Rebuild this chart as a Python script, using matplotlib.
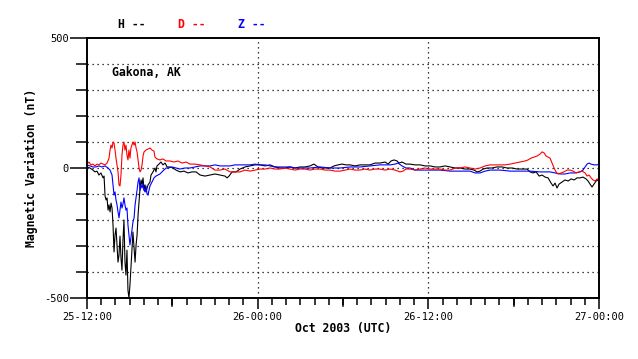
import numpy as np
import matplotlib
matplotlib.use("Agg")
import matplotlib.pyplot as plt

# Gakona, AK magnetometer, 25-12:00 to 27-00:00 Oct 2003 (UTC)
# time = hours since 25-12:00, values in nT

h_time = [0.0, 0.21, 0.42, 0.56, 0.70, 0.84, 0.98, 1.13, 1.20, 1.27, 1.34, 1.41, 1.48, 1.55, 1.62,
          1.69, 1.76, 1.83, 1.90, 1.97, 2.04, 2.11, 2.18, 2.25, 2.32, 2.39, 2.46, 2.53, 2.60, 2.67,
          2.74, 2.81, 2.88, 2.95, 3.02, 3.09, 3.16, 3.23, 3.31, 3.38, 3.45, 3.52, 3.59, 3.66, 3.73,
          3.80, 3.87, 3.94, 4.01, 4.08, 4.15, 4.29, 4.43, 4.50, 4.64, 4.78, 4.85, 4.92, 5.06, 5.20,
          5.34, 5.49, 5.63, 5.84, 6.05, 6.26, 6.54, 6.82, 7.10, 7.38, 7.67, 7.95, 8.30, 8.65, 9.00,
          9.35, 9.70, 9.85, 9.99, 10.20, 10.48, 10.76, 11.11, 11.46, 11.81, 12.17, 12.52, 12.87,
          13.22, 13.57, 13.92, 14.28, 14.63, 14.98, 15.33, 15.68, 15.96, 16.24, 16.53, 16.81, 17.09,
          17.37, 17.65, 17.93, 18.21, 18.50, 18.85, 19.20, 19.55, 19.90, 20.25, 20.60, 20.96, 21.17,
          21.38, 21.59, 21.80, 21.94, 22.15, 22.43, 22.71, 23.07, 23.42, 23.77, 24.12, 24.47, 24.82,
          25.18, 25.53, 25.88, 26.23, 26.58, 26.93, 27.22, 27.43, 27.64, 27.85, 28.13, 28.48, 28.83,
          29.18, 29.54, 29.89, 30.24, 30.59, 30.94, 31.15, 31.36, 31.58, 31.79, 32.00, 32.21, 32.42,
          32.63, 32.77, 32.91, 33.05, 33.19, 33.40, 33.61, 33.83, 34.04, 34.25, 34.46, 34.67, 34.88,
          35.09, 35.23, 35.37, 35.51, 35.65, 35.80, 35.94, 36.0]
h_vals = [4, 0, -8, -15, -12, -27, -19, -38, -31, -108, -123, -115, -162, -142, -169,
          -135, -154, -219, -323, -258, -231, -296, -362, -335, -262, -346, -393, -277, -200, -362,
          -412, -316, -470, -500, -450, -385, -316, -246, -308, -362, -296, -258, -181, -131, -77,
          -46, -65, -38, -85, -65, -92, -65, -54, -27, -15, 0, -15, 8, 15, 23,
          12, 19, 4, 4, 0, -8, -15, -12, -19, -15, -15, -27, -31, -27, -23,
          -27, -31, -38, -31, -15, -15, -4, 4, 8, 12, 12, 8, 12,
          4, 0, 0, 4, 0, 4, 4, 8, 15, 4, 0, 0, 0,
          8, 12, 15, 12, 12, 8, 12, 12, 12, 19, 19, 23, 15,
          27, 31, 27, 19, 23, 15, 15, 12, 12, 8, 8, 4, 4,
          8, 4, 0, 0, -4, -4, -8, -15, -12, -4, 0, 0, 4,
          4, 0, 0, -4, -4, -4, -15, -19, -15, -31, -27, -35, -38,
          -58, -69, -58, -77, -62, -54, -46, -50, -42, -46, -38, -38, -35,
          -42, -50, -62, -73, -62, -50, -46, -50]

d_time = [0.0, 0.14, 0.28, 0.42, 0.56, 0.70, 0.84, 0.98, 1.13, 1.27, 1.41, 1.55, 1.62, 1.69, 1.76,
          1.83, 1.90, 1.97, 2.04, 2.11, 2.18, 2.25, 2.32, 2.39, 2.46, 2.53, 2.60, 2.67, 2.74, 2.81,
          2.88, 2.95, 3.02, 3.09, 3.16, 3.23, 3.31, 3.38, 3.45, 3.52, 3.59, 3.66, 3.73, 3.80, 3.87,
          3.94, 4.01, 4.15, 4.29, 4.43, 4.57, 4.71, 4.78, 4.92, 5.13, 5.34, 5.56, 5.84, 6.12, 6.40,
          6.68, 6.96, 7.24, 7.59, 7.95, 8.30, 8.65, 9.00, 9.35, 9.70, 10.06, 10.41, 10.76, 11.11,
          11.46, 11.81, 12.17, 12.52, 12.87, 13.22, 13.57, 13.92, 14.28, 14.63, 14.98, 15.33, 15.68,
          16.03, 16.39, 16.74, 17.09, 17.44, 17.79, 18.14, 18.50, 18.85, 19.20, 19.55, 19.90, 20.25,
          20.60, 20.96, 21.31, 21.66, 22.01, 22.22, 22.43, 22.71, 23.07, 23.42, 23.77, 24.12, 24.47,
          24.82, 25.18, 25.53, 25.88, 26.23, 26.58, 26.93, 27.29, 27.64, 27.99, 28.34, 28.69, 29.04,
          29.40, 29.75, 30.10, 30.45, 30.80, 31.01, 31.22, 31.43, 31.65, 31.86, 32.00, 32.14, 32.28,
          32.42, 32.56, 32.70, 32.84, 32.98, 33.12, 33.33, 33.54, 33.76, 33.97, 34.18, 34.39, 34.60,
          34.81, 35.02, 35.16, 35.30, 35.44, 35.58, 35.72, 35.87, 36.0]
d_vals = [15, 23, 12, 15, 8, 15, 12, 19, 15, 12, 19, 38, 69, 88, 77,
          100, 96, 69, 38, 12, -15, -65, -69, -27, 50, 88, 100, 69, 88, 50,
          31, 69, 38, 77, 88, 100, 88, 100, 77, 62, 31, 0, -15, -8, 12,
          46, 62, 69, 73, 77, 69, 65, 42, 35, 31, 35, 27, 27, 23, 27,
          19, 23, 15, 15, 12, 8, 4, -8, -8, -4, -15, -15, -15, -8,
          -12, -8, -4, -4, 0, -4, -4, 0, -4, -8, -4, -4, -8,
          -4, -4, -8, -8, -12, -12, -8, -4, -8, -8, -4, -8, -4,
          -4, -8, -4, -8, -15, -12, -4, -4, -8, -4, 0, -4, -4,
          -4, -8, -8, 0, 0, 4, 0, -4, 0, 8, 12, 12, 12,
          12, 15, 19, 23, 27, 31, 38, 42, 46, 54, 62, 58, 46,
          42, 38, 19, 0, -15, -23, -19, -15, -8, -8, -12, -19, -15,
          -12, -19, -31, -27, -38, -46, -50, -42, -46]

z_time = [0.0, 0.21, 0.42, 0.63, 0.84, 1.05, 1.27, 1.48, 1.62, 1.76, 1.83, 1.90, 1.97, 2.04, 2.11,
          2.18, 2.25, 2.32, 2.39, 2.46, 2.53, 2.60, 2.67, 2.74, 2.81, 2.88, 2.95, 3.02, 3.09, 3.16,
          3.23, 3.31, 3.38, 3.45, 3.52, 3.59, 3.66, 3.73, 3.80, 3.87, 3.94, 4.01, 4.08, 4.15, 4.22,
          4.29, 4.36, 4.43, 4.57, 4.71, 4.85, 4.99, 5.13, 5.27, 5.41, 5.56, 5.70, 5.98, 6.26, 6.54,
          6.89, 7.24, 7.59, 7.95, 8.30, 8.65, 9.00, 9.35, 9.70, 10.06, 10.41, 10.76, 11.11, 11.46,
          11.81, 12.17, 12.52, 12.87, 13.22, 13.57, 13.92, 14.28, 14.63, 14.98, 15.68, 16.39, 17.09,
          17.79, 18.50, 19.20, 19.90, 20.60, 21.31, 21.66, 21.87, 22.15, 22.43, 22.71, 23.07, 23.42,
          24.12, 24.82, 25.53, 26.23, 26.93, 27.29, 27.64, 27.99, 28.34, 29.04, 29.75, 30.45, 31.15,
          31.86, 32.56, 32.91, 33.26, 33.61, 33.97, 34.32, 34.67, 34.88, 35.02, 35.16, 35.30, 35.44,
          35.65, 35.87, 36.0]
z_vals = [12, 8, 4, 4, 8, 4, 8, 0, -8, -27, -65, -104, -92, -123, -142,
          -169, -192, -162, -131, -154, -139, -115, -142, -162, -154, -219, -258, -296, -269, -239,
          -208, -192, -142, -115, -85, -54, -38, -85, -65, -77, -62, -85, -92, -69, -100,
          -104, -85, -69, -54, -38, -31, -27, -23, -15, -8, 0, 0, 4, 0, -4,
          0, 0, 4, 8, 8, 8, 12, 8, 8, 8, 12, 12, 12, 12,
          15, 12, 12, 8, 4, 4, 4, 4, 0, 0, 0, 4, 0,
          0, 4, 4, 8, 12, 12, 15, 19, 8, 0, 0, -8, -8,
          -8, -8, -12, -12, -12, -19, -19, -12, -8, -8, -12, -12, -12,
          -15, -15, -19, -23, -23, -19, -19, -15, -8, 4, 15, 19, 15,
          12, 12, 15]

tick_hours = [0, 12, 24, 36]
tick_labels = ['25-12:00', '26-00:00', '26-12:00', '27-00:00']

plt.rcParams['font.family'] = ['DejaVu Sans Mono']

fig = plt.figure(figsize=(6.38, 3.59), dpi=100)
ax = fig.add_axes([87 / 638, 1 - 298 / 359, 512 / 638, 260 / 359])

ax.plot(h_time, h_vals, color='black', lw=0.8)
ax.plot(z_time, z_vals, color='blue', lw=0.8)
ax.plot(d_time, d_vals, color='red', lw=0.8)

ax.set_xlim(0, 36)
ax.set_ylim(-500, 500)

# dotted grid
for v in range(-400, 500, 100):
    ax.axhline(v, color='black', lw=0.9, ls=(0, (1, 3)), zorder=0)
for t in [12, 24]:
    ax.axvline(t, color='black', lw=0.9, ls=(0, (1, 3)), zorder=0)

# x ticks: labels every 12 h, long ticks every 6 h, short every hour
ax.set_xticks(tick_hours)
ax.set_xticklabels(tick_labels, fontsize=7.5)
ax.set_xticks(range(0, 37), minor=True)
ax.tick_params(axis='x', which='major', length=8, width=1.1, direction='out', pad=2)
ax.tick_params(axis='x', which='minor', length=5, width=1.1, direction='out')
for t in [6, 18, 30]:
    ax.plot([t, t], [0, -8 / 260], transform=ax.get_xaxis_transform(), color='black',
            lw=1.1, clip_on=False)

ax.set_yticks([-500, 0, 500])
ax.set_yticklabels(['-500', '0', '500'], fontsize=7.5)
ax.set_yticks(range(-400, 500, 100), minor=True)
ax.tick_params(axis='y', which='major', length=12, width=1.1, direction='out', pad=1)
ax.tick_params(axis='y', which='minor', length=8, width=1.1, direction='out')

for s in ax.spines.values():
    s.set_linewidth(1.4)

ax.set_xlabel('Oct 2003 (UTC)', fontsize=8.3, fontweight='bold', labelpad=0)
ax.set_ylabel('Magnetic Variation (nT)', fontsize=8.3, fontweight='bold', labelpad=4)

ax.text(25 / 512, 1 - 34 / 260, 'Gakona, AK', transform=ax.transAxes, fontsize=8.3,
        fontweight='bold', va='center', ha='left')

fig.text(118 / 638, 1 - 24 / 359, 'H --', color='black', fontsize=8.3, fontweight='bold', va='center')
fig.text(178 / 638, 1 - 24 / 359, 'D --', color='red', fontsize=8.3, fontweight='bold', va='center')
fig.text(238 / 638, 1 - 24 / 359, 'Z --', color='blue', fontsize=8.3, fontweight='bold', va='center')

fig.savefig('out.png', dpi=100)
